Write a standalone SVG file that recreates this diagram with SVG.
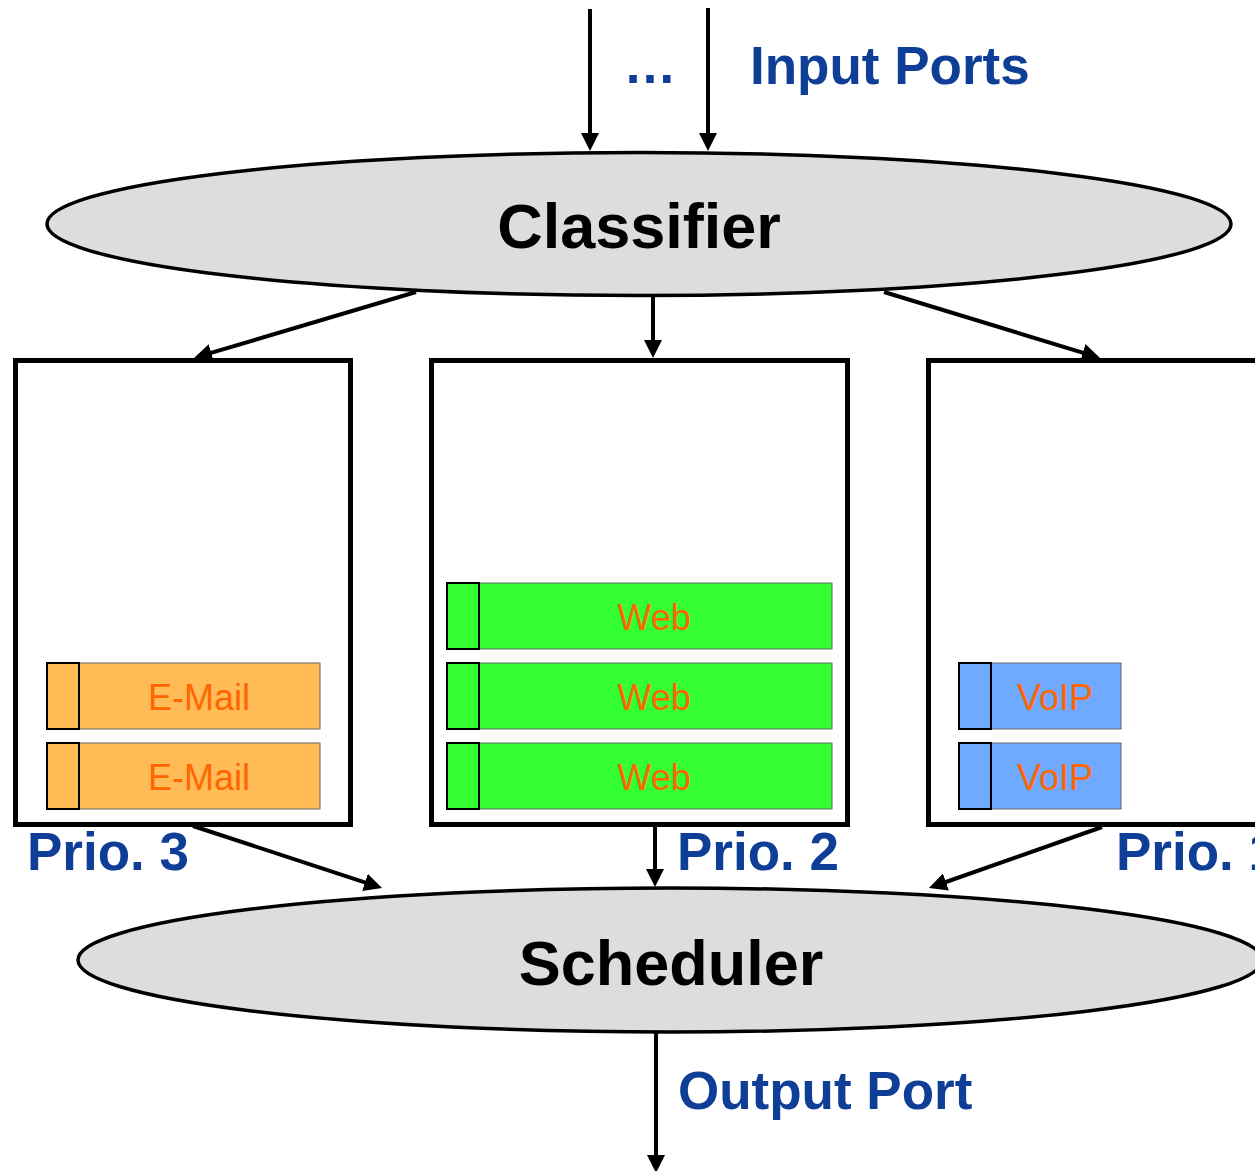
<svg xmlns="http://www.w3.org/2000/svg" width="1255" height="1171" viewBox="0 0 1255 1171">
<style>
.ell{fill:#DDDDDD;stroke:#000;stroke-width:3.5}
.box{fill:#fff;stroke:#000;stroke-width:5}
.conn{stroke:#000;stroke-width:4;fill:none;marker-end:url(#ah)}
.big{font-family:"Liberation Sans",Arial,sans-serif;font-weight:bold;font-size:63px;fill:#000;text-anchor:middle}
.lbl{font-family:"Liberation Sans",Arial,sans-serif;font-weight:bold;font-size:53px;fill:#0E3E96}
.pt{font-family:"Liberation Sans",Arial,sans-serif;font-size:36px;fill:#FF6600;text-anchor:middle}
.bar{stroke:#666;stroke-width:1}
.sq{stroke:#000;stroke-width:2}
.em{fill:#FFBB55}
.wb{fill:#33FF33}
.vo{fill:#70AAFF}
</style>
<defs>
<marker id="ah" markerUnits="userSpaceOnUse" viewBox="0 0 18 18" markerWidth="18" markerHeight="18" refX="3" refY="9" orient="auto">
<path d="M0,0 L18,9 L0,18 z" fill="#000"/>
</marker>
</defs>

<g id="input-ports">
<text class="lbl" x="650" y="83" text-anchor="middle">…</text>
<text class="lbl" x="750" y="84">Input Ports</text>
</g>

<g id="classifier">
<ellipse class="ell" cx="639" cy="224" rx="592" ry="71.5"/>
<text class="big" x="639" y="248">Classifier</text>
</g>

<g id="queue-prio3">
<rect class="box" x="15.5" y="360.5" width="335" height="464"/>
<rect class="bar em" x="47" y="663" width="273" height="66"/>
<rect class="sq em" x="47" y="663" width="32" height="66"/>
<text class="pt" x="199" y="710">E-Mail</text>
<rect class="bar em" x="47" y="743" width="273" height="66"/>
<rect class="sq em" x="47" y="743" width="32" height="66"/>
<text class="pt" x="199" y="790">E-Mail</text>
<text class="lbl" x="27" y="870">Prio. 3</text>
</g>

<g id="queue-prio2">
<rect class="box" x="431.5" y="360.5" width="416" height="464"/>
<rect class="bar wb" x="447" y="583" width="385" height="66"/>
<rect class="sq wb" x="447" y="583" width="32" height="66"/>
<text class="pt" x="654" y="630">Web</text>
<rect class="bar wb" x="447" y="663" width="385" height="66"/>
<rect class="sq wb" x="447" y="663" width="32" height="66"/>
<text class="pt" x="654" y="710">Web</text>
<rect class="bar wb" x="447" y="743" width="385" height="66"/>
<rect class="sq wb" x="447" y="743" width="32" height="66"/>
<text class="pt" x="654" y="790">Web</text>
<text class="lbl" x="677" y="870">Prio. 2</text>
</g>

<g id="queue-prio1">
<rect class="box" x="928.5" y="360.5" width="340" height="464"/>
<rect class="bar vo" x="959" y="663" width="162" height="66"/>
<rect class="sq vo" x="959" y="663" width="32" height="66"/>
<text class="pt" x="1055" y="710">VoIP</text>
<rect class="bar vo" x="959" y="743" width="162" height="66"/>
<rect class="sq vo" x="959" y="743" width="32" height="66"/>
<text class="pt" x="1055" y="790">VoIP</text>
<text class="lbl" x="1116" y="870">Prio. 1</text>
</g>

<g id="scheduler">
<ellipse class="ell" cx="670" cy="960" rx="592" ry="72"/>
<text class="big" x="671" y="985">Scheduler</text>
</g>

<g id="output-port">
<text class="lbl" x="678" y="1109">Output Port</text>
</g>

<g id="connectors">
<line class="conn" x1="590" y1="9" x2="590" y2="136"/>
<line class="conn" x1="708" y1="8" x2="708" y2="136"/>
<line class="conn" x1="416" y1="292" x2="208.4" y2="353.7"/>
<line class="conn" x1="653" y1="297" x2="653" y2="343"/>
<line class="conn" x1="884" y1="292" x2="1085.7" y2="353.6"/>
<line class="conn" x1="193" y1="826" x2="367.8" y2="883.3"/>
<line class="conn" x1="655" y1="827" x2="655" y2="872"/>
<line class="conn" x1="1102" y1="827" x2="943.1" y2="883"/>
<line class="conn" x1="656" y1="1033" x2="656" y2="1158"/>
</g>
</svg>
